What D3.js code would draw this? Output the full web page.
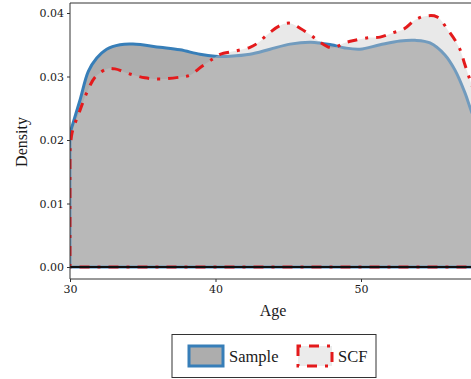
<!DOCTYPE html>
<html>
<head>
<meta charset="utf-8">
<script src="https://cdn.jsdelivr.net/npm/d3@7"></script>
<style>
  body { margin: 0; overflow: hidden; background: #fff; }
  text { fill: #1a1a1a; }
</style>
</head>
<body>
<svg id="chart" width="471" height="379"></svg>
<script>
// density curves (age, density)
const sampleAge = [30.0, 30.69, 31.26, 31.84, 32.52, 33.44, 34.33, 36.19, 37.56, 38.93, 39.97, 41.0, 42.37, 43.75, 45.12, 46.56, 47.94, 48.9, 49.93, 51.31, 52.68, 53.71, 54.74, 55.77, 56.46, 57.15, 57.56, 58.2, 58.6];
const sampleDensity = [0.0211, 0.0263, 0.0308, 0.0329, 0.0343, 0.0350, 0.0351, 0.0346, 0.0342, 0.0335, 0.0332, 0.0332, 0.0335, 0.0343, 0.0351, 0.0354, 0.0350, 0.0345, 0.0343, 0.0350, 0.0356, 0.0357, 0.0353, 0.0334, 0.0310, 0.0274, 0.0247, 0.0210, 0.0180];

const scfAge = [30.0, 30.14, 30.69, 31.24, 31.72, 32.54, 33.09, 34.12, 35.15, 36.19, 37.56, 38.25, 39.0, 39.83, 40.31, 41.34, 42.37, 42.92, 43.61, 44.43, 45.12, 45.81, 46.56, 47.18, 48.01, 48.9, 49.59, 50.48, 51.31, 52.2, 52.96, 53.71, 54.4, 55.22, 55.98, 56.74, 57.15, 57.56, 58.2, 58.6];
const scfDensity = [0.0180, 0.0211, 0.0247, 0.0279, 0.0299, 0.0312, 0.0312, 0.0304, 0.0298, 0.0296, 0.0299, 0.0302, 0.0315, 0.0328, 0.0335, 0.0340, 0.0346, 0.0353, 0.0367, 0.0380, 0.0384, 0.0376, 0.0365, 0.0354, 0.0345, 0.0353, 0.0357, 0.0361, 0.0362, 0.0369, 0.0375, 0.0389, 0.0395, 0.0394, 0.0373, 0.0346, 0.0318, 0.0290, 0.0250, 0.0220];

const xTicks = [30, 40, 50];
const yTicks = [0.00, 0.01, 0.02, 0.03, 0.04];
const legendLabels = ["Sample", "SCF"];

const blue = "#377eb8", red = "#e41a1c";
const serif = "'Liberation Serif', serif";
const tickFont = "'DejaVu Serif', serif";

const svg = d3.select("#chart");

const panel = { left: 70, top: 3, right: 520, bottom: 279 };

const x = d3.scaleLinear().domain([30, 60]).range([70, 70 + 14.55 * 30]);
const y = d3.scaleLinear().domain([0, 0.04]).range([267, 13]);

const sample = sampleAge.map((a, i) => ({ a: a, d: sampleDensity[i] }));
const scf = scfAge.map((a, i) => ({ a: a, d: scfDensity[i] }));

svg.append("defs").append("clipPath").attr("id", "clip")
  .append("rect")
  .attr("x", panel.left).attr("y", panel.top)
  .attr("width", panel.right - panel.left)
  .attr("height", panel.bottom - panel.top);

const g = svg.append("g").attr("clip-path", "url(#clip)");

const curve = d3.curveCatmullRom.alpha(0.5);
const area = d3.area().x(d => x(d.a)).y0(y(0)).y1(d => y(d.d)).curve(curve);
const line = d3.line().x(d => x(d.a)).y(d => y(d.d)).curve(curve);

// outline: up the left edge, along the curve, down and back along the baseline
function outline(data) {
  let first = data[0], last = data[data.length - 1];
  return "M" + x(first.a) + "," + y(0) +
    line(data).replace(/^M/, "L") +
    "L" + x(last.a) + "," + y(0) + "Z";
}

// Sample
g.append("path").attr("d", area(sample)).attr("fill", "#adadad");
g.append("path").attr("d", outline(sample))
  .attr("fill", "none").attr("stroke", blue).attr("stroke-width", 3);

// SCF
g.append("path").attr("d", area(scf))
  .attr("fill", "#c8c8c8").attr("fill-opacity", 0.4);
g.append("path").attr("d", outline(scf))
  .attr("fill", "none").attr("stroke", red).attr("stroke-width", 3)
  .attr("stroke-dasharray", "3,8,10,8");

// zero line
g.append("line")
  .attr("x1", panel.left).attr("x2", panel.right)
  .attr("y1", y(0)).attr("y2", y(0))
  .attr("stroke", "#111").attr("stroke-width", 2);

// panel lines
svg.append("path")
  .attr("d", "M" + panel.right + "," + panel.top + "H" + panel.left + "V" + panel.bottom + "H" + panel.right)
  .attr("fill", "none").attr("stroke", "#333").attr("stroke-width", 1);

// axes
const yAxis = svg.append("g").attr("transform", "translate(" + panel.left + ",0)")
  .call(d3.axisLeft(y).tickValues(yTicks).tickFormat(d3.format(".2f")).tickSize(3).tickPadding(3));
const xAxis = svg.append("g").attr("transform", "translate(0," + panel.bottom + ")")
  .call(d3.axisBottom(x).tickValues(xTicks).tickSize(3).tickPadding(3));

[xAxis, yAxis].forEach(ax => {
  ax.select(".domain").remove();
  ax.selectAll(".tick line").attr("stroke", "#333");
  ax.selectAll(".tick text").attr("font-family", tickFont).attr("font-size", 11)
    .attr("fill", "#111");
});

// axis titles
svg.append("text").attr("x", 273).attr("y", 316)
  .attr("text-anchor", "middle").attr("font-family", serif).attr("font-size", 16)
  .text("Age");
svg.append("text")
  .attr("transform", "translate(27,142) rotate(-90)")
  .attr("text-anchor", "middle").attr("font-family", serif).attr("font-size", 16)
  .text("Density");

// legend
const legend = svg.append("g");
legend.append("rect")
  .attr("x", 172).attr("y", 334.5).attr("width", 204).attr("height", 43)
  .attr("fill", "#fff").attr("stroke", "#333").attr("stroke-width", 1);

const keys = [
  { x: 189, fill: "#adadad", stroke: blue, dash: null },
  { x: 298, fill: "#ebebeb", stroke: red, dash: "3,8,10,8" }
];
keys.forEach((k, i) => {
  legend.append("rect")
    .attr("x", k.x).attr("y", 346).attr("width", 34).attr("height", 20)
    .attr("fill", k.fill).attr("stroke", k.stroke).attr("stroke-width", 3)
    .attr("stroke-dasharray", k.dash);
  legend.append("text")
    .attr("x", k.x + 40).attr("y", 362)
    .attr("font-family", serif).attr("font-size", 16.5)
    .text(legendLabels[i]);
});
</script>
</body>
</html>
